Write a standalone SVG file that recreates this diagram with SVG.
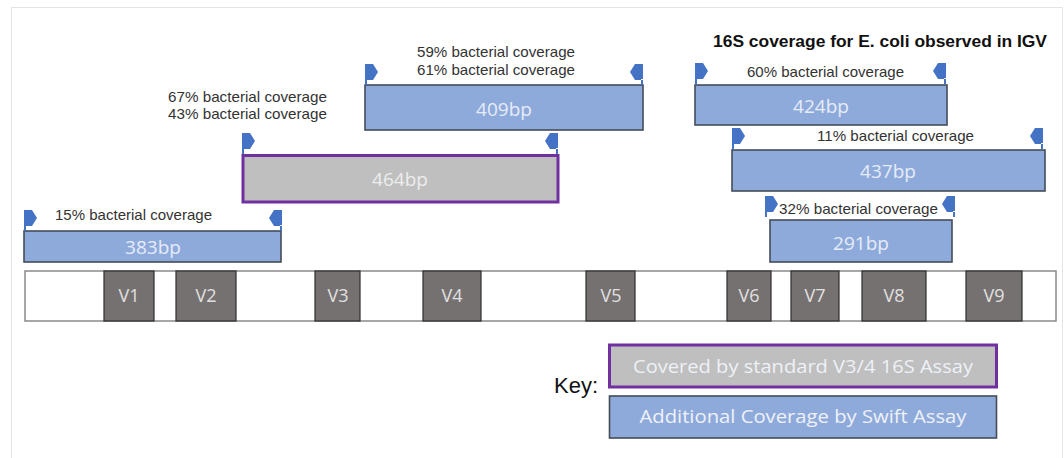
<svg xmlns="http://www.w3.org/2000/svg" xmlns:xlink="http://www.w3.org/1999/xlink" width="1064" height="458" viewBox="0 0 1064 458">
<style>
.lbl{font-family:"Liberation Sans",Arial,sans-serif;font-size:15px;fill:#333333}
.title{font-family:"Liberation Sans",Arial,sans-serif;font-size:17.4px;font-weight:bold;fill:#111}
.blue{fill:#8eaadb;stroke:#444c58;stroke-width:1.6}
.gray{fill:#bfbfbf;stroke:#7030a0;stroke-width:3}
.bp{font-family:"Open Sans","Noto Sans",sans-serif;font-size:19px;fill:#e6ecf7;text-anchor:middle}
.vbox{fill:#767171;stroke:#2e2e2e;stroke-width:1.2}
.vt{font-family:"Open Sans","Noto Sans",sans-serif;font-size:18px;fill:#e0e0e0;text-anchor:middle}
.key{font-family:"Open Sans","Noto Sans",sans-serif;font-size:18px;fill:#eef1f7;text-anchor:middle}
.arrow{fill:#4472c4}
</style>
<defs>
<path id="fwd" d="M0,0 h8 l5,8 l-5,8 h-8 z M0,15 h2 v6 h-2 z"/>
<path id="rev" d="M13,0 h-8 l-5,8 l5,8 h8 z M11,15 h2 v6 h-2 z"/>
</defs>
<rect width="1064" height="458" fill="#ffffff"/>
<path d="M11.5,470 V7.5 H1062.5 V470" fill="none" stroke="#e4e4e4" stroke-width="1"/>

<text class="title" x="713" y="47" textLength="334" lengthAdjust="spacingAndGlyphs">16S coverage for E. coli observed in IGV</text>

<g id="amp409">
<rect class="blue" x="365" y="85" width="278" height="45"/>
<text class="bp" x="504" y="116">409bp</text>
<text class="lbl" x="417" y="57" textLength="158" lengthAdjust="spacingAndGlyphs">59% bacterial coverage</text>
<text class="lbl" x="417" y="75" textLength="158" lengthAdjust="spacingAndGlyphs">61% bacterial coverage</text>
</g>
<g id="amp464">
<rect class="gray" x="243" y="155.5" width="315" height="46.5"/>
<text class="bp" x="400" y="186" style="fill:#ededed">464bp</text>
<text class="lbl" x="168" y="102" textLength="159" lengthAdjust="spacingAndGlyphs">67% bacterial coverage</text>
<text class="lbl" x="168" y="119" textLength="159" lengthAdjust="spacingAndGlyphs">43% bacterial coverage</text>
</g>
<g id="amp424">
<rect class="blue" x="695" y="85" width="252" height="40"/>
<text class="bp" x="821" y="113">424bp</text>
<text class="lbl" x="747" y="77" textLength="157" lengthAdjust="spacingAndGlyphs">60% bacterial coverage</text>
</g>
<g id="amp437">
<rect class="blue" x="732" y="150" width="313" height="41"/>
<text class="bp" x="888" y="178">437bp</text>
<text class="lbl" x="817" y="141" textLength="157" lengthAdjust="spacingAndGlyphs">11% bacterial coverage</text>
</g>
<g id="amp291">
<rect class="blue" x="770" y="220" width="182" height="42"/>
<text class="bp" x="861" y="250">291bp</text>
<text class="lbl" x="779" y="214" textLength="159" lengthAdjust="spacingAndGlyphs">32% bacterial coverage</text>
</g>
<g id="amp383">
<rect class="blue" x="24" y="231" width="257" height="31"/>
<text class="bp" x="153" y="254">383bp</text>
<text class="lbl" x="55" y="220" textLength="157" lengthAdjust="spacingAndGlyphs">15% bacterial coverage</text>
</g>

<g id="primers" class="arrow">
<use xlink:href="#fwd" x="365" y="64"/>
<use xlink:href="#rev" x="630" y="64"/>
<use xlink:href="#fwd" x="242" y="133"/>
<use xlink:href="#rev" x="545" y="133"/>
<use xlink:href="#fwd" x="695" y="63"/>
<use xlink:href="#rev" x="933" y="63"/>
<use xlink:href="#fwd" x="732" y="128"/>
<use xlink:href="#rev" x="1030" y="128"/>
<use xlink:href="#fwd" x="765" y="196"/>
<use xlink:href="#rev" x="942" y="196"/>
<use xlink:href="#fwd" x="24" y="210"/>
<use xlink:href="#rev" x="269" y="210"/>
</g>

<g id="genome">
<rect x="25" y="271" width="1031" height="50" fill="#ffffff" stroke="#8a8a8a" stroke-width="1.5"/>
</g>
<g id="V1"><rect class="vbox" x="104" y="271" width="50" height="50"/><text class="vt" x="129" y="302">V1</text></g>
<g id="V2"><rect class="vbox" x="176" y="271" width="60" height="50"/><text class="vt" x="206" y="302">V2</text></g>
<g id="V3"><rect class="vbox" x="315" y="271" width="45" height="50"/><text class="vt" x="338" y="302">V3</text></g>
<g id="V4"><rect class="vbox" x="423" y="271" width="58" height="50"/><text class="vt" x="452" y="302">V4</text></g>
<g id="V5"><rect class="vbox" x="586" y="271" width="49" height="50"/><text class="vt" x="611" y="302">V5</text></g>
<g id="V6"><rect class="vbox" x="727" y="271" width="44" height="50"/><text class="vt" x="749" y="302">V6</text></g>
<g id="V7"><rect class="vbox" x="791" y="271" width="48" height="50"/><text class="vt" x="815" y="302">V7</text></g>
<g id="V8"><rect class="vbox" x="862" y="271" width="64" height="50"/><text class="vt" x="894" y="302">V8</text></g>
<g id="V9"><rect class="vbox" x="966" y="271" width="56" height="50"/><text class="vt" x="994" y="302">V9</text></g>

<g id="key">
<text x="554" y="393" style="font-family:'Liberation Sans',Arial,sans-serif;font-size:22px;fill:#111">Key:</text>
<rect class="gray" x="609.5" y="345" width="387" height="42"/>
<text class="key" x="803" y="373" textLength="340" lengthAdjust="spacingAndGlyphs">Covered by standard V3/4 16S Assay</text>
<rect class="blue" x="609.5" y="396" width="387" height="42"/>
<text class="key" x="803" y="423" textLength="327" lengthAdjust="spacingAndGlyphs">Additional Coverage by Swift Assay</text>
</g>
</svg>
